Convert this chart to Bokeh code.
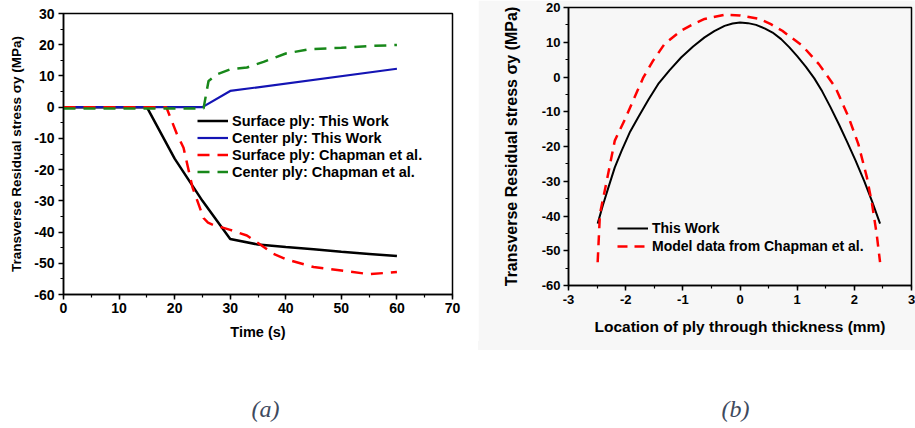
from bokeh.plotting import figure
from bokeh.models import Range1d, SingleIntervalTicker, Legend, LegendItem, PrintfTickFormatter, Spacer
from bokeh.layouts import column, row
from bokeh.embed import file_html
from bokeh.resources import INLINE
from bokeh.core.properties import value

# ---------------- data: panel (a) ----------------
time_surface_tw = [0, 15, 20, 25, 30, 35, 40, 45, 50, 55, 60]
stress_surface_tw = [0, 0, -16.5, -30, -42.2, -44, -44.8, -45.5, -46.3, -47, -47.7]

time_center_tw = [0, 25, 30, 60]
stress_center_tw = [0, 0, 5.2, 12.3]

time_surface_ch = [0, 18.5, 20.4, 21.6, 23.2, 25.2, 26, 27, 28.5, 30, 33, 35, 37.8, 40, 45, 50, 55, 60]
stress_surface_ch = [0, 0, -8.6, -13, -25.6, -35.5, -37, -37.8, -38.5, -39.3, -41.1, -43.5, -47, -48.7, -51.2, -52.3, -53.5, -52.8]

time_center_ch = [0, 25.2, 26.1, 27.6, 30, 33, 36, 40, 44.4, 50, 55, 60]
stress_center_ch = [-0.4, -0.4, 8.4, 10.5, 12.1, 12.7, 14.5, 17.2, 18.6, 19, 19.6, 19.9]

labels_a = ["Surface ply: This Work", "Center ply: This Work",
            "Surface ply: Chapman et al.", "Center ply: Chapman et al."]

# ---------------- data: panel (b) ----------------
loc_tw = [-2.49, -2.40, -2.30, -2.19, -2.07, -1.93, -1.78, -1.60, -1.43, -1.23, -1.03, -0.82, -0.62, -0.45,
          -0.27, -0.13, 0, 0.14, 0.28, 0.43, 0.57, 0.72, 0.86, 1.00, 1.15, 1.30, 1.44, 1.58, 1.73, 1.88,
          2.02, 2.17, 2.31, 2.45]
stress_tw = [-42.2, -37.0, -31.7, -26.0, -21.2, -16.0, -11.6, -6.5, -2.0, 2.0, 5.6, 8.8, 11.4, 13.2,
             14.7, 15.4, 15.7, 15.5, 15.0, 14.0, 12.8, 10.9, 8.6, 6.0, 3.0, -0.4, -4.2, -8.6, -13.6, -18.9,
             -24.0, -29.8, -35.8, -42.2]

loc_ch = [-2.49, -2.45, -2.33, -2.19, -2.01, -1.87, -1.69, -1.52, -1.32, -1.03, -0.82, -0.62, -0.27, 0,
          0.34, 0.54, 0.74, 1.09, 1.38, 1.67, 1.90, 2.07, 2.22, 2.31, 2.39, 2.45]
stress_ch = [-53.3, -39.4, -29.8, -18.3, -12.1, -6.8, -0.1, 4.7, 9.5, 13.3, 15.2, 16.7, 17.9, 17.7,
             16.7, 15.2, 13.3, 9.0, 3.7, -3.0, -11.6, -19.3, -28.9, -36.5, -45.1, -53.3]

labels_b = ["This Work", "Model data from Chapman et al."]
captions = ["(a)", "(b)"]

FONT = "Liberation Sans"


def style_axes(p, tick_size, xlabel_size, ylabel_size, x_tick_standoff, y_tick_standoff,
               xlabel_standoff, ylabel_standoff):
    for ax in (p.xaxis[0], p.yaxis[0]):
        ax.axis_line_width = 1.5
        ax.axis_line_color = "black"
        ax.major_tick_in = 0
        ax.major_tick_out = 5
        ax.minor_tick_in = 0
        ax.minor_tick_out = 3
        ax.major_tick_line_width = 1.5
        ax.minor_tick_line_width = 1.2
        ax.major_label_text_font = FONT
        ax.major_label_text_font_style = "bold"
        ax.major_label_text_font_size = tick_size
        ax.major_label_text_color = "black"
        ax.axis_label_text_font = FONT
        ax.axis_label_text_font_style = "bold"
        ax.axis_label_text_color = "black"
        ax.formatter = PrintfTickFormatter(format="%d")
    p.xaxis[0].axis_label_text_font_size = xlabel_size
    p.yaxis[0].axis_label_text_font_size = ylabel_size
    p.xaxis[0].major_label_standoff = x_tick_standoff
    p.yaxis[0].major_label_standoff = y_tick_standoff
    p.yaxis[0].axis_label_standoff = ylabel_standoff
    p.xaxis[0].axis_label_standoff = xlabel_standoff
    p.xgrid.visible = False
    p.ygrid.visible = False
    p.outline_line_color = "black"
    p.outline_line_width = 1.5
    p.outline_line_alpha = 1.0


def style_legend(leg, size, row_h):
    leg.label_text_font = FONT
    leg.label_text_font_style = "bold"
    leg.label_text_font_size = size
    leg.label_text_color = "black"
    leg.border_line_color = None
    leg.background_fill_alpha = 0
    leg.padding = 0
    leg.margin = 0
    leg.spacing = 0
    leg.glyph_width = 31
    leg.glyph_height = row_h
    leg.label_height = row_h
    leg.label_standoff = 4


# ---------------- panel (a) ----------------
pa = figure(width=478, height=344, output_backend="svg", toolbar_location=None,
            x_range=Range1d(0, 70), y_range=Range1d(-60, 30),
            min_border_left=63, min_border_right=26, min_border_top=7, min_border_bottom=56,
            background_fill_color="white", border_fill_color="white")
pa.xaxis.ticker = SingleIntervalTicker(interval=10, num_minor_ticks=2)
pa.yaxis.ticker = SingleIntervalTicker(interval=10, num_minor_ticks=2)
pa.xaxis.axis_label = "Time (s)"
pa.yaxis.axis_label = "Transverse Residual stress σy (MPa)"
style_axes(pa, "14px", "14.5px", "13.5px", 3, 4, 8, 7)

r1 = pa.line(time_surface_tw, stress_surface_tw, line_color="black", line_width=2.5)
r2 = pa.line(time_center_tw, stress_center_tw, line_color="#1414b4", line_width=2.2)
r3 = pa.line(time_surface_ch, stress_surface_ch, line_color="#ff0000", line_width=2.5, line_dash="12 8")
r4 = pa.line(time_center_ch, stress_center_ch, line_color="#18881a", line_width=2.5, line_dash="12 8")

leg_a = Legend(items=[LegendItem(label=labels_a[i], renderers=[r]) for i, r in enumerate([r1, r2, r3, r4])],
               location=(134, 114))
style_legend(leg_a, "14.5px", 17)
pa.add_layout(leg_a)

# ---------------- panel (b) ----------------
BG = "#f7f7f7"
pb = figure(width=437, height=341, output_backend="svg", toolbar_location=None,
            x_range=Range1d(-3, 3), y_range=Range1d(-60, 20),
            min_border_left=90, min_border_right=4, min_border_top=7, min_border_bottom=56,
            background_fill_color=BG, border_fill_color=BG)
pb.xaxis.ticker = SingleIntervalTicker(interval=1, num_minor_ticks=2)
pb.yaxis.ticker = SingleIntervalTicker(interval=10, num_minor_ticks=2)
pb.xaxis.axis_label = "Location of ply through thickness (mm)"
pb.yaxis.axis_label = "Transverse Residual stress σy (MPa)"
style_axes(pb, "13px", "15.5px", "16px", 4, 3, 11, 19)

s1 = pb.line(loc_tw, stress_tw, line_color="black", line_width=2)
s2 = pb.line(loc_ch, stress_ch, line_color="#ff0000", line_width=2.5, line_dash="10 7")

leg_b = Legend(items=[LegendItem(label=labels_b[i], renderers=[r]) for i, r in enumerate([s1, s2])],
               location=(49, 30))
style_legend(leg_b, "14px", 18)
pb.add_layout(leg_b)

# ---------------- captions ----------------
pc = figure(width=915, height=78, output_backend="svg", toolbar_location=None,
            x_range=Range1d(0, 915), y_range=Range1d(428, 350),
            min_border=0, min_border_left=0, min_border_right=0, min_border_top=0, min_border_bottom=0,
            background_fill_color="white", border_fill_color="white")
pc.axis.visible = False
pc.xgrid.visible = False
pc.ygrid.visible = False
pc.outline_line_color = None
pc.text(x=[265, 735], y=[408, 408], text=captions,
        text_font=value("Liberation Serif"), text_font_style="italic",
        text_font_size="24px", text_color="#3e4a5e",
        text_align="center", text_baseline="middle")

left_col = column(Spacer(width=478, height=6), pa)
right_col = column(pb, Spacer(width=437, height=9, styles={"background-color": BG}))
layout = column(row(left_col, right_col), pc)
open("out.html", "w").write(file_html(layout, INLINE))
